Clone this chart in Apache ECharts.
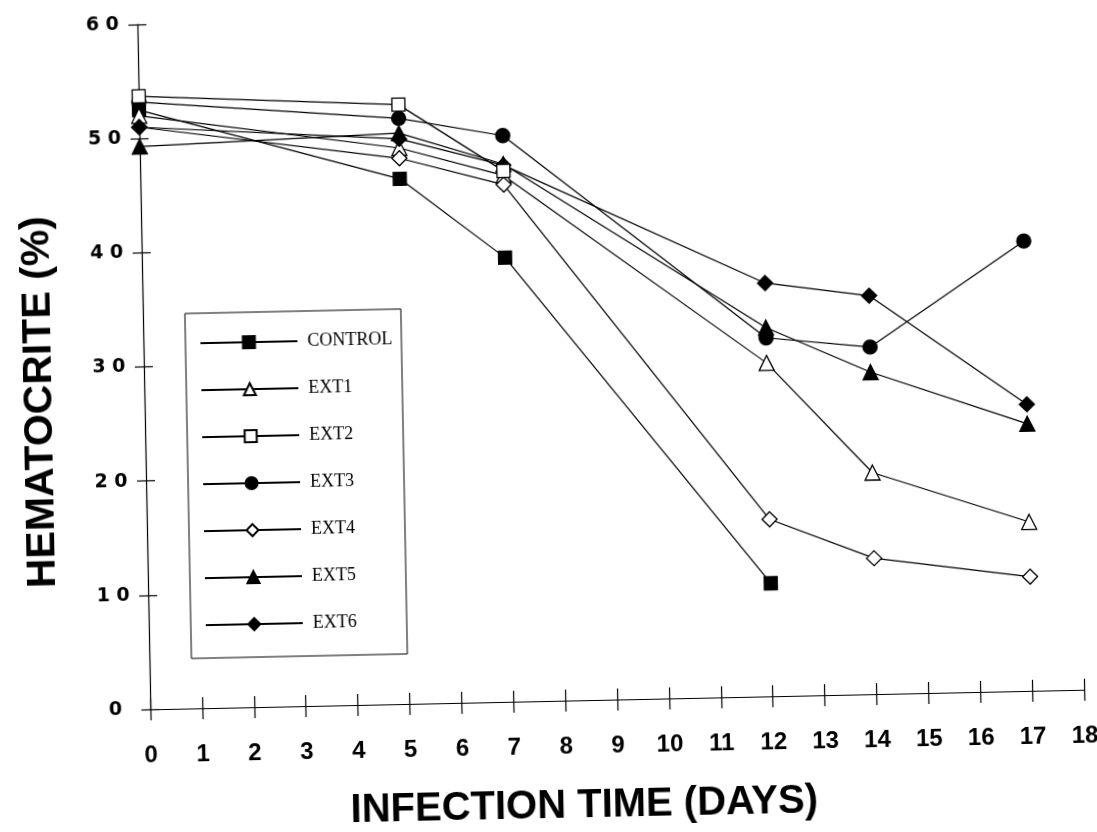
<!DOCTYPE html>
<html>
<head>
<meta charset="utf-8">
<script src="https://cdn.jsdelivr.net/npm/echarts@6/dist/echarts.min.js"></script>
<style>
  html, body { margin: 0; padding: 0; background: #fff; overflow: hidden; }
  /* the scanned original sits slightly askew, so the whole chart is tilted a little */
  #chart { width: 1097px; height: 832px; transform-origin: 548px 416px; transform: matrix(1, -0.021, 0.019, 1, 0, 0); }
</style>
</head>
<body>
<div id="chart"></div>
<script>
// infection time (days) at which hematocrite was measured
var days = [0, 5, 7, 12, 14, 17]

// hematocrite (%) per group, in the order of days
var control = [52.5, 46.0, 38.9, 9.9]
var ext1 = [52.0, 48.7, 46.1, 29.2, 19.4, 14.8]
var ext2 = [53.7, 52.5, 46.5]
var ext3 = [53.2, 51.3, 49.6, 31.4, 30.4, 39.4]
var ext4 = [51.0, 47.8, 45.3, 15.5, 11.9, 10.0]
var ext5 = [49.3, 50.0, 47.1, 32.3, 28.2, 23.4]
var ext6 = [51.0, 49.5, 47.0, 36.2, 34.9, 25.1]

var groupNames = ['CONTROL', 'EXT1', 'EXT2', 'EXT3', 'EXT4', 'EXT5', 'EXT6']
var groupValues = [control, ext1, ext2, ext3, ext4, ext5, ext6]

var xMin = 0, xMax = 18, xStep = 1
var yMin = 0, yMax = 60, yStep = 10

// marker look per group: symbol and whether it is filled
var markers = [
  { symbol: 'rect', fill: '#000', size: 13 },
  { symbol: 'triangle', fill: '#fff', size: 15 },
  { symbol: 'rect', fill: '#fff', size: 13 },
  { symbol: 'circle', fill: '#000', size: 14 },
  { symbol: 'diamond', fill: '#fff', size: 15 },
  { symbol: 'triangle', fill: '#000', size: 15 },
  { symbol: 'diamond', fill: '#000', size: 15 }
]

var chart = echarts.init(document.getElementById('chart'))

var series = groupNames.map(function (name, i) {
  return {
    name: name,
    type: 'line',
    z: name === 'EXT2' ? 3 : 2,
    data: groupValues[i].map(function (v, j) { return [days[j], v] }),
    symbol: markers[i].symbol,
    symbolSize: markers[i].size,
    showAllSymbol: true,
    lineStyle: { color: '#000', width: 1.2 },
    itemStyle: { color: markers[i].fill, borderColor: '#000', borderWidth: 1.3, opacity: 1 },
    emphasis: { disabled: true },
    animation: false
  }
})

var axisStroke = { color: '#000', width: 1.2 }

var option = {
  backgroundColor: '#fff',
  animation: false,
  grid: { left: 145, top: 16, right: 18, bottom: 126, containLabel: false },
  legend: {
    orient: 'vertical',
    left: 187,
    top: 306,
    itemWidth: 97,
    itemHeight: 15,
    itemGap: 29,
    padding: [21, 9, 24, 14],
    borderColor: '#000',
    borderWidth: 1,
    selectedMode: false,
    data: groupNames,
    textStyle: {
      fontFamily: "'Liberation Serif', 'DejaVu Serif', serif",
      fontSize: 18, color: '#000', lineHeight: 15, padding: [0, 0, 0, 5]
    }
  },
  xAxis: [
    {
      type: 'value',
      min: xMin, max: xMax, interval: xStep,
      name: 'INFECTION TIME (DAYS)',
      nameLocation: 'middle',
      nameGap: 86,
      nameTextStyle: {
        fontFamily: "'Liberation Sans', Arial, sans-serif",
        fontWeight: 'bold', fontSize: 40, color: '#000', padding: [0, 70, 0, 0]
      },
      axisLine: { show: true, lineStyle: axisStroke },
      axisTick: { show: true, inside: false, length: 11, lineStyle: axisStroke },
      axisLabel: {
        margin: 34, color: '#000', fontSize: 24, fontWeight: 'bold',
        fontFamily: "'Liberation Sans', Arial, sans-serif"
      },
      splitLine: { show: false }
    },
    {
      type: 'value', position: 'bottom',
      min: xMin, max: xMax, interval: xStep,
      axisLine: { show: false },
      axisTick: { show: true, inside: true, length: 11, lineStyle: axisStroke },
      axisLabel: { show: false },
      splitLine: { show: false }
    }
  ],
  yAxis: [
    {
      type: 'value',
      min: yMin, max: yMax, interval: yStep,
      name: 'HEMATOCRITE (%)',
      nameLocation: 'middle',
      nameGap: 84,
      nameRotate: 90,
      nameTextStyle: {
        fontFamily: "'Liberation Sans', Arial, sans-serif",
        fontWeight: 'bold', fontSize: 41, color: '#000', padding: [0, 66, 0, 0]
      },
      axisLine: { show: true, lineStyle: axisStroke },
      axisTick: { show: true, inside: false, length: 9, lineStyle: axisStroke },
      axisLabel: {
        margin: 35, align: 'center', color: '#000', fontSize: 19, fontWeight: 'bold',
        fontFamily: "'DejaVu Sans', sans-serif",
        formatter: function (v) { return String(v).split('').join(' ') }
      },
      splitLine: { show: false }
    },
    {
      type: 'value', position: 'left',
      min: yMin, max: yMax, interval: yStep,
      axisLine: { show: false },
      axisTick: { show: true, inside: true, length: 9, lineStyle: axisStroke },
      axisLabel: { show: false },
      splitLine: { show: false }
    }
  ],
  series: series
}

chart.setOption(option)
</script>
</body>
</html>
